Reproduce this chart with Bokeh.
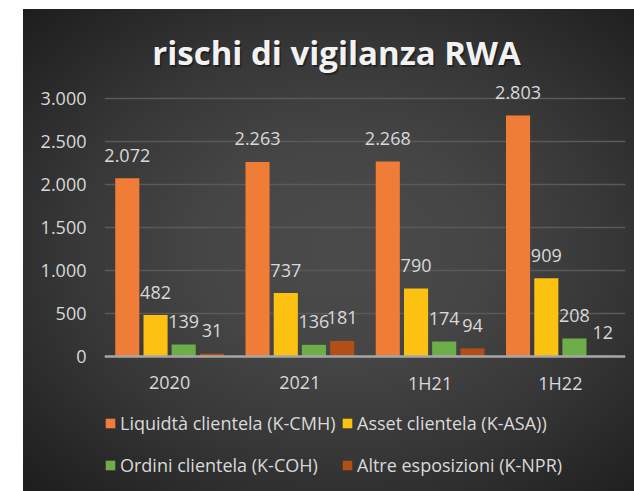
from bokeh.plotting import figure
from bokeh.models import (ColumnDataSource, FactorRange, FixedTicker, LabelSet, Label,
                          Legend, LegendItem, Spacer, Span, Range1d)
from bokeh.transform import dodge
from bokeh.layouts import row, column
from bokeh.core.properties import value
from bokeh.embed import file_html
from bokeh.resources import INLINE

# ---- data ----
categories = ["2020", "2021", "1H21", "1H22"]
liquidita = [2072, 2263, 2268, 2803]
asset = [482, 737, 790, 909]
ordini = [139, 136, 174, 208]
altre = [31, 181, 94, 12]
series_names = ["Liquidtà clientela (K-CMH)", "Asset clientela (K-ASA))",
                "Ordini clientela (K-COH)", "Altre esposizioni (K-NPR)"]
y_ticks = [0, 500, 1000, 1500, 2000, 2500, 3000]
title_text = "rischi di vigilanza RWA"


def it_fmt(v):
    return f"{v:,}".replace(",", ".")


series = [liquidita, asset, ordini, altre]
keys = ["liq", "ass", "ord", "alt"]
colors = ["#ef7d37", "#fdc112", "#6eae48", "#b24f17"]
offsets = [-0.325, -0.108, 0.108, 0.325]

data = {"cat": categories}
for k, s in zip(keys, series):
    data[k] = s
    data[k + "_lbl"] = [it_fmt(v) for v in s]
source = ColumnDataSource(data)

FONT = "Open Sans"
TXT = "#d9d9d9"

# layout geometry (pixels)
W, H = 611, 482
ZERO_PX = 135          # distance of value 0 from bottom of frame
SPAN_PX = 258          # pixels from 0 to 3000
per_px = y_ticks[-1] / SPAN_PX
y_start = -ZERO_PX * per_px
y_end = (H - ZERO_PX) * per_px

p = figure(width=W, height=H, x_range=FactorRange(*categories, range_padding=0),
           y_range=Range1d(y_start, y_end), output_backend="svg", toolbar_location=None,
           min_border_left=81, min_border_right=9, min_border_top=0, min_border_bottom=0)
p.background_fill_color = None
p.border_fill_color = None
p.outline_line_color = None
p.styles = {"background": "radial-gradient(ellipse at 52% 50%, #4b4b4b 0%, #454545 32%, #373737 60%, #1d1d1d 100%)"}

p.xaxis.visible = False
p.xgrid.grid_line_color = None
ticker = FixedTicker(ticks=y_ticks)
p.yaxis.ticker = ticker
p.ygrid.ticker = ticker
p.ygrid.grid_line_color = "#5a5a5a"
p.ygrid.grid_line_width = 1.5
p.yaxis.major_label_overrides = {t: it_fmt(t) for t in y_ticks}
p.yaxis.axis_line_color = None
p.yaxis.major_tick_line_color = None
p.yaxis.minor_tick_line_color = None
p.yaxis.major_tick_out = 0
p.yaxis.major_tick_in = 0
p.yaxis.major_label_text_color = TXT
p.yaxis.major_label_text_font = FONT
p.yaxis.major_label_text_font_size = "18px"
p.yaxis.major_label_standoff = 18

renderers = []
for k, c, off in zip(keys, colors, offsets):
    r = p.vbar(x=dodge("cat", off, range=p.x_range), top=k, width=0.185, source=source,
               fill_color=c, line_color=None)
    renderers.append(r)
    p.add_layout(LabelSet(x=dodge("cat", off, range=p.x_range), y=k, text=k + "_lbl",
                          source=source, y_offset=23, text_align="center",
                          text_baseline="middle", text_color=TXT, text_font=value(FONT),
                          text_font_size="18px"))

# category axis: base line + labels
p.add_layout(Span(location=0, dimension="width", line_color="#a6a6a6", line_width=2.5))
p.add_layout(LabelSet(x="cat", y=0, text="cat", source=source, y_offset=-26,
                      text_align="center", text_baseline="middle", text_color=TXT,
                      text_font=value(FONT), text_font_size="18px"))

# title with soft shadow
p.add_layout(Label(x=233.5, y=437, x_units="screen", y_units="screen", text=title_text,
                   text_align="center", text_baseline="middle", text_font=FONT,
                   text_font_style="bold", text_font_size="33px", text_color="#000000",
                   text_alpha=0.4))
p.add_layout(Label(x=232, y=439, x_units="screen", y_units="screen", text=title_text,
                   text_align="center", text_baseline="middle", text_font=FONT,
                   text_font_style="bold", text_font_size="33px", text_color="#f2f2f2"))


def make_legend(items, x):
    return Legend(items=items, location=(x, 14), orientation="vertical",
                  padding=0, margin=0, spacing=18, glyph_width=12, glyph_height=12,
                  label_height=20, label_standoff=4, border_line_color=None,
                  background_fill_alpha=0, label_text_color=TXT,
                  label_text_font=FONT, label_text_font_size="18px")


legA = make_legend([LegendItem(label=series_names[0], renderers=[renderers[0]]),
                    LegendItem(label=series_names[2], renderers=[renderers[2]])], 0)
legB = make_legend([LegendItem(label=series_names[1], renderers=[renderers[1]]),
                    LegendItem(label=series_names[3], renderers=[renderers[3]])], 237)
p.add_layout(legA, "center")
p.add_layout(legB, "center")

layout = column(Spacer(width=W + 23, height=9), row(Spacer(width=23, height=H), p))
open("out.html", "w").write(file_html(layout, INLINE))
